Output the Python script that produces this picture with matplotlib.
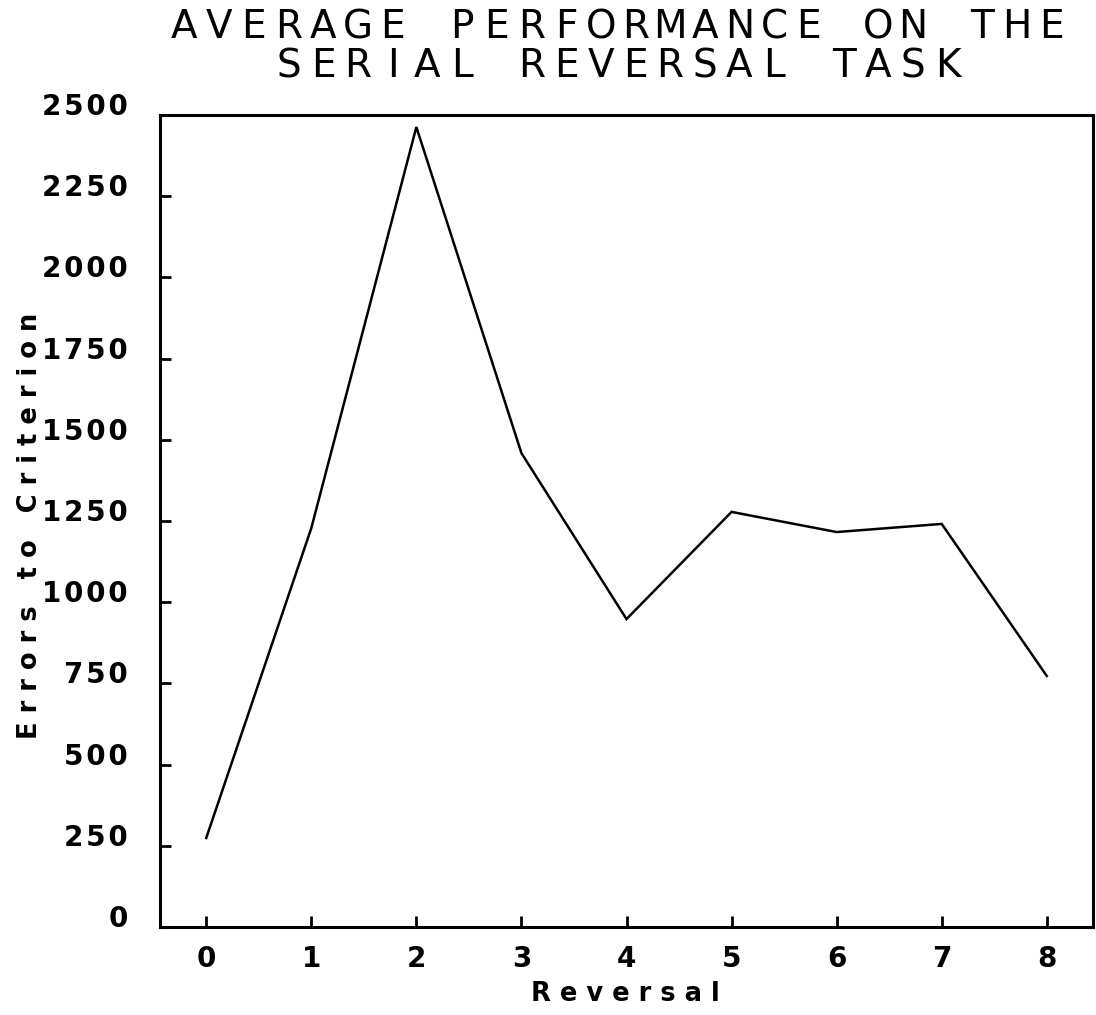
import numpy as np
import matplotlib
matplotlib.use("Agg")
import matplotlib.pyplot as plt
from matplotlib.ticker import FixedLocator, FuncFormatter

plt.rcParams['font.family'] = ['DejaVu Sans']

# data
reversal = [0, 1, 2, 3, 4, 5, 6, 7, 8]
errors = [274, 1228, 2463, 1459, 948, 1278, 1216, 1241, 773]

x_ticks = [0, 1, 2, 3, 4, 5, 6, 7, 8]
y_ticks = [0, 250, 500, 750, 1000, 1250, 1500, 1750, 2000, 2250, 2500]

title_lines = ["AVERAGE PERFORMANCE ON THE", "SERIAL REVERSAL TASK"]
x_label = "Reversal"
y_label = "Errors to Criterion"

W, H, DPI = 1096, 1015, 100


def spaced(s, sep="\u200a"):
    return sep.join(s)


fig = plt.figure(figsize=(W / DPI, H / DPI), dpi=DPI)
ax = fig.add_axes([160 / W, 1 - 927 / H, (1093 - 160) / W, (927 - 115) / H])

ax.plot(reversal, errors, color='black', lw=1.8, solid_joinstyle='miter')

ax.set_xlim(-0.44, 8.44)
ax.set_ylim(0, 2500)
ax.xaxis.set_major_locator(FixedLocator(x_ticks))
ax.yaxis.set_major_locator(FixedLocator(y_ticks))
ax.xaxis.set_major_formatter(FuncFormatter(lambda v, p: spaced(str(int(v)))))
ax.yaxis.set_major_formatter(FuncFormatter(lambda v, p: spaced(str(int(v)))))

ax.tick_params(axis='both', direction='in', length=8, width=2, labelsize=20,
               top=False, right=False)
ax.tick_params(axis='x', pad=13)
ax.tick_params(axis='y', pad=23)
for lab in ax.get_xticklabels() + ax.get_yticklabels():
    lab.set_fontweight('bold')
for lab in ax.get_yticklabels():
    lab.set_va('baseline')

for sp in ax.spines.values():
    sp.set_linewidth(2.2)

# axis labels, letter spaced like the plotter output
fig.text(625 / W, 1 - 994 / H, spaced(x_label, " "), ha='center', va='center',
         fontsize=18.5, fontweight='bold')
fig.text(30 / W, 1 - 526 / H, spaced(y_label, " "), ha='center', va='center',
         rotation=90, fontsize=18.5, fontweight='bold')

# title, one character at a time on a fixed pitch
pitch = 34.7
for line, cy in zip(title_lines, [27.5, 66]):
    n = len(line)
    for i, ch in enumerate(line):
        if ch == " ":
            continue
        cx = 618 + (i - (n - 1) / 2) * pitch
        fig.text(cx / W, 1 - cy / H, ch, ha='center', va='center',
                 fontsize=28, fontweight='normal')

fig.savefig("out.png", dpi=DPI)
